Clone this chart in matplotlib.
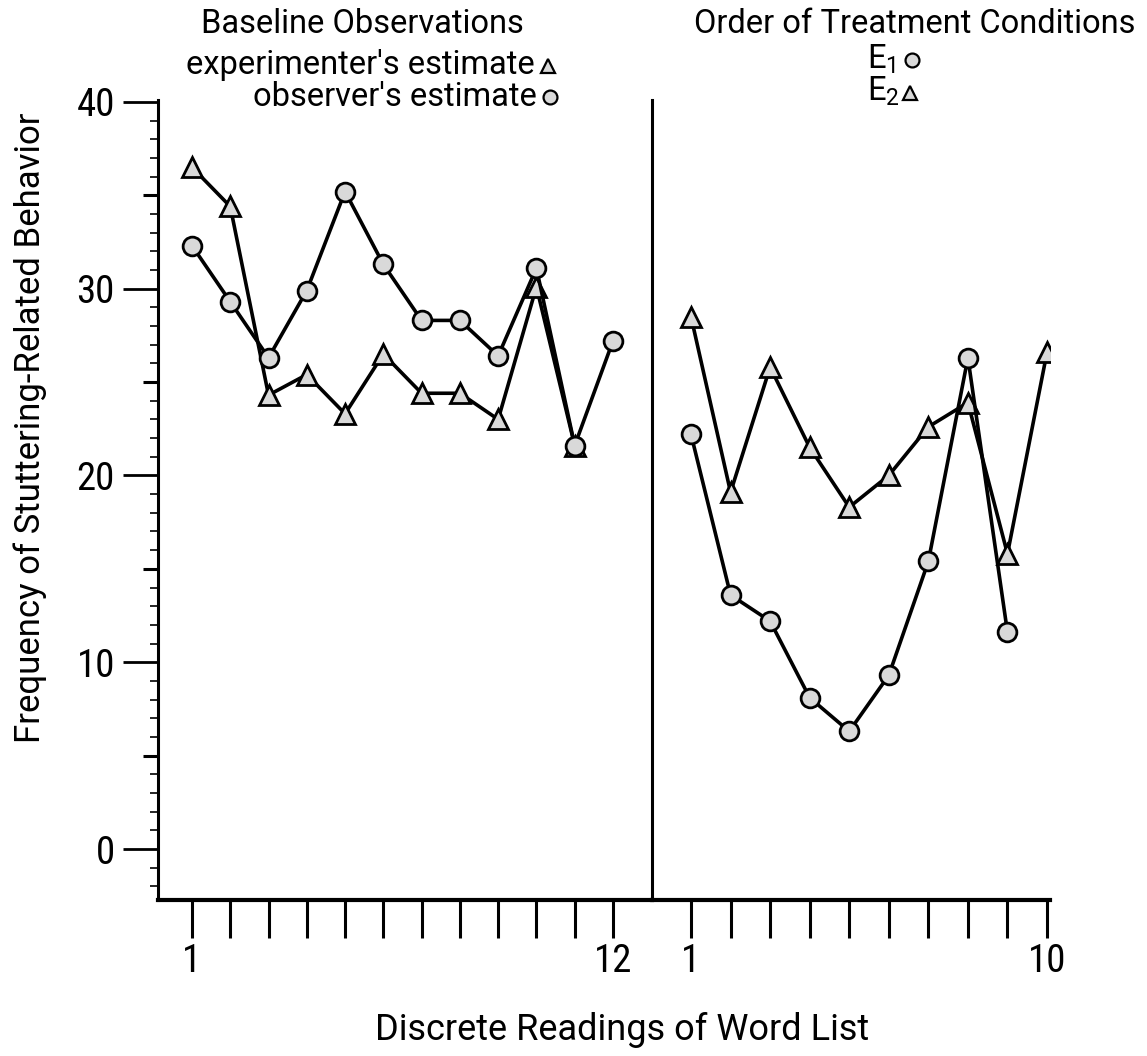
import matplotlib
matplotlib.use('Agg')
import matplotlib.pyplot as plt
from matplotlib.ticker import MultipleLocator, FixedLocator, NullLocator

COND = ['Roboto Condensed', 'DejaVu Sans Condensed', 'Liberation Sans Narrow', 'Roboto', 'DejaVu Sans']
REG = ['Roboto', 'DejaVu Sans']
plt.rcParams['font.family'] = COND

# ---------------- data ----------------
baseline_readings = list(range(1, 13))
experimenter_estimate = [36.5, 34.4, 24.3, 25.4, 23.3, 26.5, 24.4, 24.4, 23.0, 30.1, 21.6]
observer_estimate = [32.3, 29.3, 26.3, 29.9, 35.2, 31.3, 28.3, 28.3, 26.4, 31.1, 21.6, 27.2]

treatment_readings = list(range(1, 11))
e1_values = [22.2, 13.6, 12.2, 8.1, 6.3, 9.3, 15.4, 26.3, 11.6]
e2_values = [28.5, 19.1, 25.8, 21.5, 18.3, 20.0, 22.6, 23.9, 15.8, 26.6]

y_ticks = [0, 10, 20, 30, 40]
y_half_ticks = [5, 15, 25, 35]
baseline_tick_labels = {1: '1', 12: '12'}
treatment_tick_labels = {1: '1', 10: '10'}

# ---------------- layout ----------------
W, H = 1147, 1056
fig = plt.figure(figsize=(W / 100, H / 100), dpi=100)


def fx(px):
    return px / W


def fy(py):
    return 1 - py / H


ax_h = (900 - 100) / H
ax1 = fig.add_axes([fx(158), fy(900), fx(652 - 158), ax_h])
ax2 = fig.add_axes([fx(652), fy(900), fx(1050 - 652), ax_h], sharey=ax1)

ax1.set_ylim(-2.73, 40.1)
ax1.set_xlim(0.112, 13.02)
ax2.set_xlim(0.014, 10.075)

line_kw = dict(color='black', lw=2.6, solid_joinstyle='round')
mk_kw = dict(markerfacecolor='#d9d9d9', markeredgecolor='black', markeredgewidth=2.0)

ax1.plot(baseline_readings[:len(experimenter_estimate)], experimenter_estimate,
         marker='^', markersize=14, zorder=3, **line_kw, **mk_kw)
ax1.plot(baseline_readings, observer_estimate,
         marker='o', markersize=13.5, zorder=4, **line_kw, **mk_kw)

ax2.plot(treatment_readings[:len(e1_values)], e1_values,
         marker='o', markersize=13.5, zorder=4, **line_kw, **mk_kw)
ax2.plot(treatment_readings, e2_values,
         marker='^', markersize=14, zorder=3, **line_kw, **mk_kw)

for ax in (ax1, ax2):
    ax.spines['top'].set_visible(False)
    ax.spines['right'].set_visible(False)
    ax.spines['bottom'].set_linewidth(3.0)
    ax.spines['left'].set_linewidth(2.2)
    ax.set_facecolor('none')

# y axis ticks
ax1.yaxis.set_major_locator(FixedLocator(y_ticks))
ax1.yaxis.set_minor_locator(MultipleLocator(1))
ax1.tick_params(axis='y', which='major', direction='out', length=25, width=2.0,
                labelsize=28, pad=6)
ax1.tick_params(axis='y', which='minor', direction='out', length=6, width=1.2)
ax1.set_yticklabels([str(t) for t in y_ticks])

# intermediate (every 5) tick marks
sec = ax1.secondary_yaxis('left')
sec.spines['left'].set_visible(False)
sec.yaxis.set_major_locator(FixedLocator(y_half_ticks))
sec.yaxis.set_minor_locator(NullLocator())
sec.tick_params(axis='y', which='major', direction='out', length=11, width=2.2,
                labelleft=False)

ax2.tick_params(axis='y', which='both', left=False, labelleft=False)

# x axis ticks
ax1.xaxis.set_major_locator(FixedLocator(baseline_readings))
ax1.set_xticklabels([baseline_tick_labels.get(r, '') for r in baseline_readings])
ax2.xaxis.set_major_locator(FixedLocator(treatment_readings))
ax2.set_xticklabels([treatment_tick_labels.get(r, '') for r in treatment_readings])
for ax in (ax1, ax2):
    ax.xaxis.set_minor_locator(NullLocator())
    ax.tick_params(axis='x', which='major', direction='out', length=27, width=2.2,
                   labelsize=28, pad=4)

# ---------------- texts ----------------
ts = 23.5
fig.text(fx(362), fy(33), 'Baseline Observations', ha='center', va='baseline',
         fontsize=ts, family=REG)
fig.text(fx(535), fy(74), "experimenter's estimate", ha='right', va='baseline',
         fontsize=ts, family=REG)
fig.text(fx(537), fy(106), "observer's estimate", ha='right', va='baseline',
         fontsize=ts, family=REG)
fig.text(fx(915), fy(33), 'Order of Treatment Conditions', ha='center', va='baseline',
         fontsize=ts, family=REG)
fig.text(fx(867), fy(68), r'E$_{\mathregular{1}}$', ha='left', va='baseline',
         fontsize=ts, family=REG)
fig.text(fx(867), fy(100), r'E$_{\mathregular{2}}$', ha='left', va='baseline',
         fontsize=ts, family=REG)

legend_kw = dict(transform=fig.transFigure, clip_on=False, linestyle='none',
                 markerfacecolor='#d9d9d9', markeredgecolor='black', markeredgewidth=1.6)
ax1.plot([fx(548)], [fy(66)], marker='^', markersize=10, **legend_kw)
ax1.plot([fx(550)], [fy(97)], marker='o', markersize=10, **legend_kw)
ax1.plot([fx(912)], [fy(60)], marker='o', markersize=10, **legend_kw)
ax1.plot([fx(910)], [fy(93)], marker='^', markersize=10, **legend_kw)

fig.text(fx(30), fy(428), 'Frequency of Stuttering-Related Behavior', rotation=90,
         ha='center', va='center', fontsize=25, family=REG)
fig.text(fx(622), fy(1030), 'Discrete Readings of Word List', ha='center', va='center',
         fontsize=26, family=REG)

fig.savefig('out.png', dpi=100)
